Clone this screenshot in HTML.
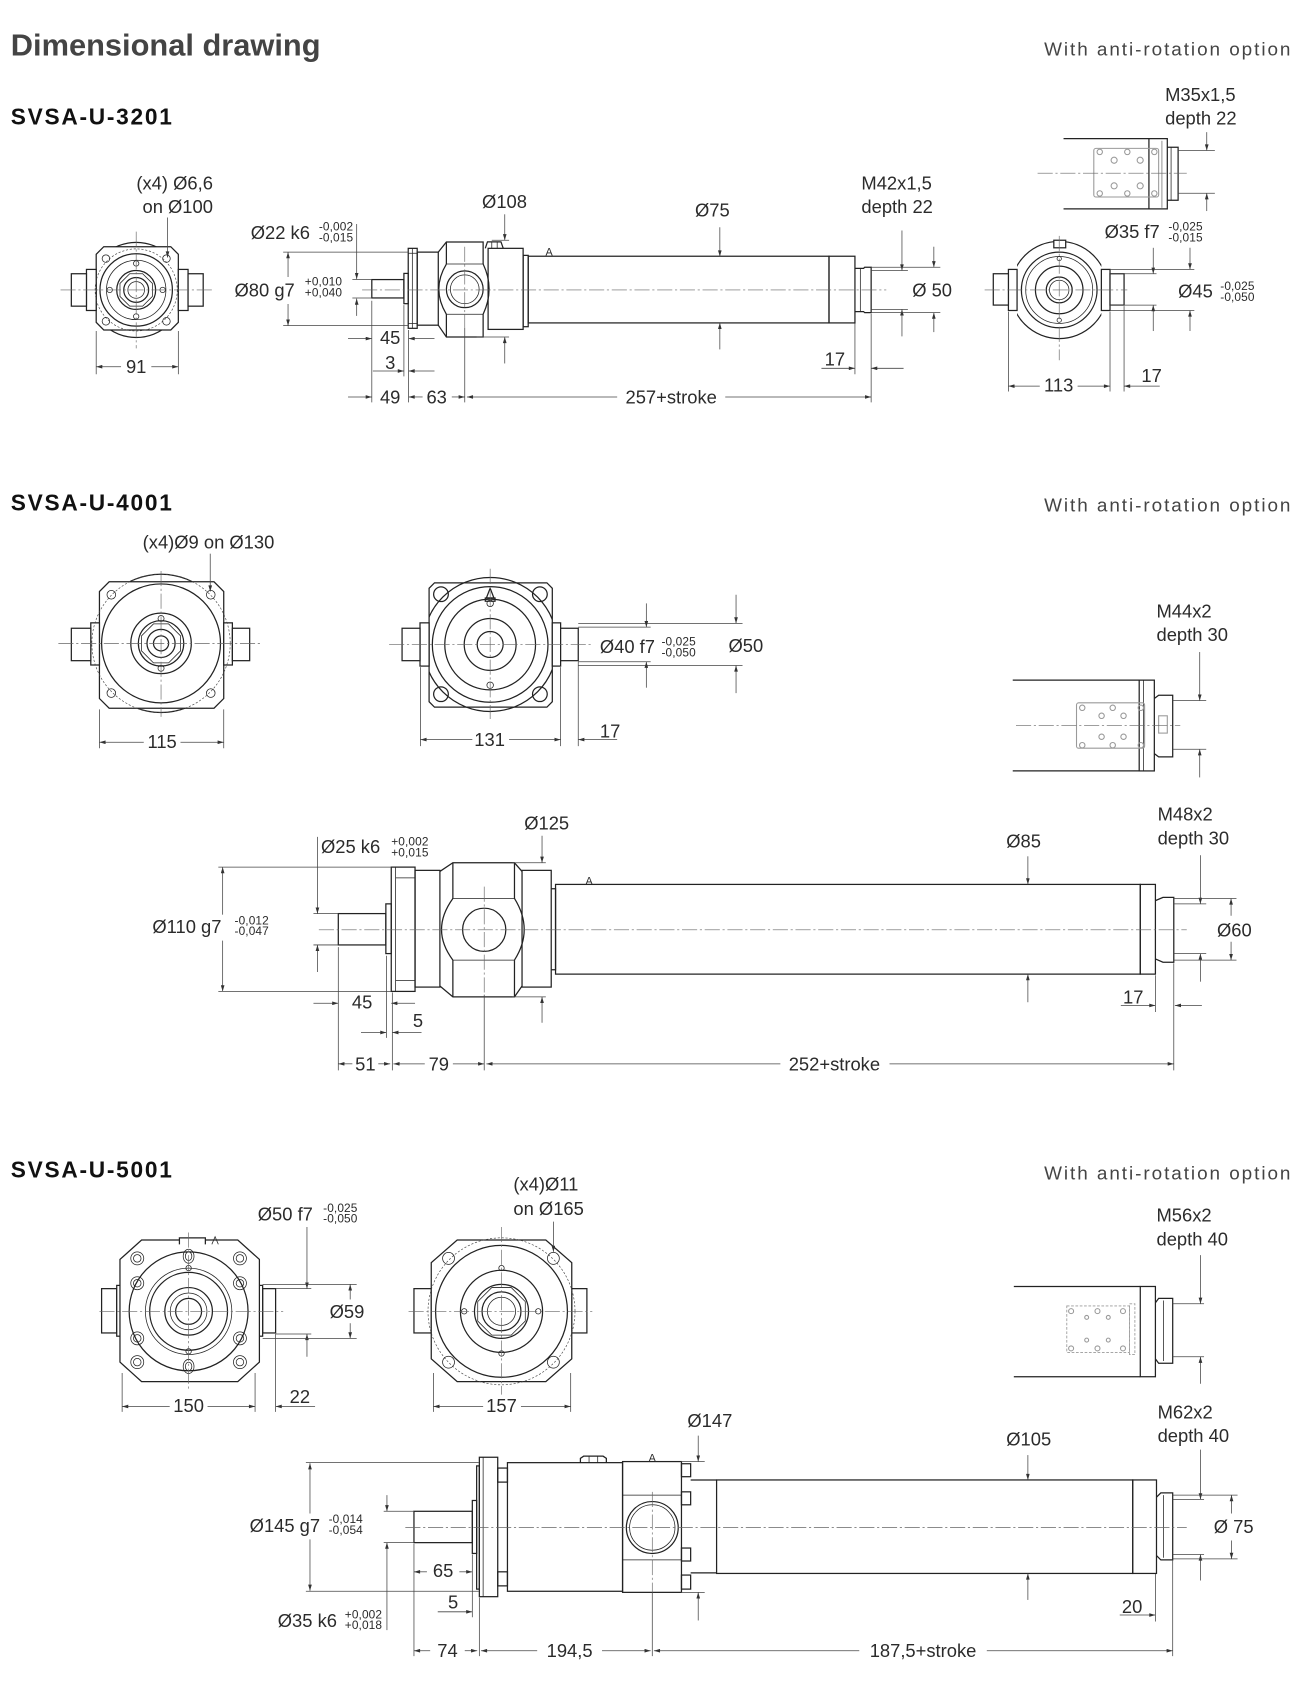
<!DOCTYPE html>
<html><head><meta charset="utf-8">
<style>
html,body{margin:0;padding:0;background:#fff}
svg{display:block}
.o{fill:none;stroke:#222;stroke-width:1.15}
.w{fill:#fff;stroke:#222;stroke-width:1.15}
.t{fill:none;stroke:#222;stroke-width:0.7}
.d{fill:none;stroke:#444;stroke-width:0.7}
.a{fill:none;stroke:#444;stroke-width:0.7;marker-end:url(#ar)}
.c{fill:none;stroke:#666;stroke-width:0.6;stroke-dasharray:14 2.5 2 2.5}
.ds{fill:none;stroke:#444;stroke-width:0.6;stroke-dasharray:2 1.6}
.g{fill:none;stroke:#9a9a9a;stroke-width:1}
.gd{fill:none;stroke:#9a9a9a;stroke-width:0.8;stroke-dasharray:2.5 1.5}
text{font-family:"Liberation Sans",Arial,sans-serif;fill:#2b2b2b}
.l{font-size:17px}
.s{font-size:11px;letter-spacing:0.1px}
.h{font-size:28.5px;font-weight:bold;fill:#444}
.m{font-size:21px;font-weight:bold;fill:#111;letter-spacing:1.6px}
.r{font-size:17.5px;fill:#444;letter-spacing:1.8px}
.x{font-size:10px}
</style></head><body>
<svg xmlns="http://www.w3.org/2000/svg" width="1297" height="1691" viewBox="0 0 1200 1564">
<defs>
<marker id="ar" viewBox="0 0 10 6" refX="10" refY="3" markerWidth="6.5" markerHeight="3.4" markerUnits="userSpaceOnUse" orient="auto"><path d="M0,0L10,3L0,6z" fill="#333"/></marker>
<clipPath id="k1"><rect x="89" y="200" width="76" height="140"/></clipPath>
<clipPath id="k2"><rect x="941" y="200" width="78" height="140"/></clipPath>
<clipPath id="k3"><rect x="92" y="520" width="115" height="160"/></clipPath>
<clipPath id="k4"><rect x="397" y="520" width="114" height="160"/></clipPath>
</defs>

<!-- HEADER -->
<text class="h" x="10" y="51">Dimensional drawing</text>
<text class="r" x="966" y="51">With anti-rotation option</text>
<text class="m" x="10" y="115">SVSA-U-3201</text>

<!-- ===== SECTION 1 : left end view ===== -->
<circle cx="126" cy="268" r="44" class="w" clip-path="url(#k1)"/>
<path class="w" d="M96,228H158L165,235V298L158,305H96L89,298V235Z"/>
<rect class="w" x="80" y="249" width="9" height="38"/>
<rect class="w" x="66" y="253" width="14" height="30"/>
<rect class="w" x="165" y="249" width="9" height="38"/>
<rect class="w" x="174" y="253" width="14" height="30"/>
<circle cx="126" cy="268" r="38" class="ds"/>
<circle cx="126" cy="268" r="33.5" class="o"/>
<circle cx="126" cy="268" r="27.5" class="t"/>
<circle cx="126" cy="268" r="18" class="o"/>
<path class="t" d="M120,253h12l9,9v12l-9,9h-12l-9,-9v-12z"/>
<circle cx="126" cy="268" r="11.5" class="o"/>
<circle cx="126" cy="268" r="7.7" class="t"/>
<circle cx="126" cy="243.5" r="2.5" class="t"/><circle cx="126" cy="292.5" r="2.5" class="t"/>
<circle cx="101.5" cy="268" r="2.5" class="t"/><circle cx="150.5" cy="268" r="2.5" class="t"/>
<circle cx="98" cy="239" r="3.5" class="t"/><circle cx="154" cy="239" r="3.5" class="t"/>
<circle cx="98" cy="297" r="3.5" class="t"/><circle cx="154" cy="297" r="3.5" class="t"/>
<path class="c" d="M56,268H196M126,214V322"/>
<path class="d" d="M89,306V346M165,306V346"/>
<path class="a" d="M112,339H89"/><path class="a" d="M140,339H165"/>
<text class="l" x="126" y="345" text-anchor="middle">91</text>
<text class="l" x="197" y="175" text-anchor="end">(x4) Ø6,6</text>
<text class="l" x="197" y="197" text-anchor="end">on Ø100</text>
<path class="a" d="M155,201V238"/>

<!-- ===== SECTION 1 : side view ===== -->
<rect class="o" x="344" y="258.4" width="29.7" height="17"/>
<rect class="o" x="373.7" y="252.7" width="4" height="28"/>
<rect class="o" x="377.7" y="229.5" width="8.3" height="74"/>
<path class="t" d="M381.5,229.5V303.5M377.7,234H386M377.7,299H386"/>
<rect class="o" x="386" y="233" width="19.5" height="67.6"/>
<path class="o" d="M405.5,233L413,223.6H447V244M405.5,300.6L413,311.5H447V290.5"/>
<path class="o" d="M413,223.6V244M413,290.5V311.5"/>
<path class="o" d="M413,244Q399,267 413,290.5M447,244Q458,267 447,290.5"/>
<path class="t" d="M413,244H447M413,290.5H447"/>
<circle cx="430" cy="267.4" r="17" class="o"/><circle cx="430" cy="267.4" r="13.3" class="t"/>
<rect class="o" x="451.6" y="229.5" width="32.4" height="75"/>
<path class="o" d="M449,229.5L451,223.5H463.5L465.6,229.5"/>
<path class="t" d="M455,223.5V229.5M460,223.5V229.5"/>
<rect class="o" x="484" y="236" width="4.7" height="66"/>
<rect class="o" x="488.7" y="236.8" width="278.3" height="61.7"/>
<rect class="o" x="767" y="236.8" width="24" height="61.7"/>
<path class="o" d="M791,248H799L800,247H806V289H800L799,288H791"/>
<path class="t" d="M796,248V288"/>
<text class="x" x="508" y="236" text-anchor="middle">A</text>
<path class="c" d="M335,268H820M430,228V303"/>
<!-- dims -->
<text class="l" x="232" y="221">Ø22 k6</text>
<text class="s" x="295" y="213">-0,002</text><text class="s" x="295" y="223">-0,015</text>
<path class="a" d="M330,207V258"/><path class="a" d="M330,292V276"/>
<path class="d" d="M326,258.4H344M326,275.4H344"/>
<text class="l" x="217" y="274">Ø80 g7</text>
<text class="s" x="282" y="264">+0,010</text><text class="s" x="282" y="274">+0,040</text>
<path class="a" d="M266.5,256V233"/><path class="a" d="M266.5,281V301"/>
<path class="d" d="M262,233H378M262,301H378"/>
<text class="l" x="446" y="192">Ø108</text>
<path class="a" d="M467,198V222"/><path class="d" d="M455,222H471"/>
<path class="a" d="M467,336V311.5"/><path class="d" d="M441,311.5H471"/>
<text class="l" x="643" y="200">Ø75</text>
<path class="a" d="M666,210V237"/><path class="a" d="M666,323V298.5"/>
<text class="l" x="797" y="175">M42x1,5</text><text class="l" x="797" y="197">depth 22</text>
<path class="a" d="M834.5,213V250"/><path class="d" d="M806,250H840"/>
<path class="a" d="M834.5,311V286"/><path class="d" d="M806,286H840"/>
<path class="d" d="M806,247H870M806,289H870"/>
<path class="a" d="M864,228V247"/><path class="a" d="M864,307V289"/>
<text class="l" x="844" y="274">Ø 50</text>
<text class="l" x="763" y="338">17</text>
<path class="a" d="M760,340.5H791"/><path class="a" d="M836,340.5H806"/>
<path class="d" d="M791,299V346M806,290V372"/>
<text class="l" x="361" y="318" text-anchor="middle">45</text>
<path class="a" d="M322,313H344"/><path class="a" d="M402,313H378"/>
<text class="l" x="361" y="341" text-anchor="middle">3</text>
<path class="a" d="M345,343H373.7"/><path class="a" d="M402,343H378"/>
<path class="d" d="M344,278V372M373.7,282V348M378,305V372M430,303V372"/>
<path class="a" d="M322,367H344"/>
<text class="l" x="361" y="373" text-anchor="middle">49</text>
<path class="a" d="M391,367H378"/>
<text class="l" x="404" y="373" text-anchor="middle">63</text>
<path class="a" d="M418,367H430"/>
<path class="a" d="M571,367H432"/>
<text class="l" x="621" y="373" text-anchor="middle">257+stroke</text>
<path class="a" d="M671,367H806"/>

<!-- ===== SECTION 1 : anti-rotation top ===== -->
<path class="o" d="M984,128H1063M984,193H1063"/>
<rect class="o" x="1063" y="128" width="17" height="65"/>
<path class="o" d="M1080,136H1090V185H1080"/>
<path class="t" d="M1083.5,136V185"/>
<rect class="g" x="1012" y="137" width="60" height="45" rx="2"/>
<path class="g" d="M1075,130V192"/>
<g class="g"><circle cx="1017.5" cy="140.3" r="2.5"/><circle cx="1043" cy="140.3" r="2.5"/><circle cx="1068" cy="140.3" r="2.5"/><circle cx="1017.5" cy="178.7" r="2.5"/><circle cx="1043" cy="178.7" r="2.5"/><circle cx="1068" cy="178.7" r="2.5"/><circle cx="1030.8" cy="148" r="2.8"/><circle cx="1054.9" cy="148" r="2.8"/><circle cx="1030.8" cy="171.7" r="2.8"/><circle cx="1054.9" cy="171.7" r="2.8"/></g>
<path class="c" d="M960,160H1098"/>
<text class="l" x="1078" y="93">M35x1,5</text><text class="l" x="1078" y="115">depth 22</text>
<path class="a" d="M1116.5,122V139"/><path class="d" d="M1090,139H1124"/>
<path class="d" d="M1090,178.5H1124"/><path class="a" d="M1116.5,195V178.5"/>

<!-- ===== SECTION 1 : anti-rotation end view ===== -->
<circle cx="980" cy="268" r="45" class="w" clip-path="url(#k2)"/>
<rect class="w" x="933" y="249" width="8" height="38"/>
<rect class="w" x="919" y="253" width="14" height="29"/>
<rect class="w" x="1019" y="249" width="8" height="38"/>
<rect class="w" x="1027" y="253" width="13" height="29"/>
<circle cx="980" cy="268" r="35" class="o"/>
<circle cx="980" cy="268" r="31" class="t"/>
<circle cx="980" cy="268" r="22" class="o"/>
<circle cx="980" cy="268" r="12" class="o"/>
<circle cx="980" cy="268" r="9" class="t"/>
<rect class="w" x="975" y="222" width="11" height="7"/>
<circle cx="980" cy="239" r="2" class="t"/><circle cx="980" cy="296" r="2" class="t"/>
<path class="c" d="M911,268H1043M980,218V333"/>
<path class="d" d="M933,288V362M1027,288V362M1040,283V362"/>
<path class="a" d="M962,357H933"/><path class="a" d="M997,357H1027"/>
<text class="l" x="979.5" y="362" text-anchor="middle">113</text>
<path class="a" d="M1073,357H1040"/>
<text class="l" x="1056" y="353">17</text>
<text class="l" x="1022" y="220">Ø35 f7</text>
<text class="s" x="1081" y="213">-0,025</text><text class="s" x="1081" y="223">-0,015</text>
<path class="d" d="M1027,249H1105M1027,287H1105M1027,253H1070M1027,282H1070"/>
<path class="a" d="M1067,229V253"/><path class="a" d="M1067,306V282"/>
<path class="a" d="M1101,229V249"/><path class="a" d="M1101,306V287"/>
<text class="l" x="1090" y="275">Ø45</text>
<text class="s" x="1129" y="268">-0,025</text><text class="s" x="1129" y="278">-0,050</text>

<!-- ===== SECTION 2 ===== -->
<text class="m" x="10" y="472">SVSA-U-4001</text>
<text class="r" x="966" y="473">With anti-rotation option</text>

<!-- left front view -->
<circle cx="149" cy="595" r="64" class="w" clip-path="url(#k3)"/>
<path class="w" d="M101,538H198L207,547V646L198,655H101L92,646V547Z"/>
<rect class="w" x="84" y="576" width="8" height="39"/>
<rect class="w" x="66" y="581" width="18" height="30"/>
<rect class="w" x="207" y="576" width="8" height="39"/>
<rect class="w" x="215" y="581" width="16" height="30"/>
<circle cx="149" cy="595" r="64" class="ds"/>
<circle cx="149" cy="595" r="55" class="o"/>
<circle cx="149" cy="595" r="28" class="o"/>
<circle cx="149" cy="595" r="21" class="o"/>
<path class="t" d="M142,577h14l11,11v14l-11,11h-14l-11,-11v-14z"/>
<circle cx="149" cy="595" r="13" class="o"/>
<circle cx="149" cy="595" r="7" class="o"/>
<circle cx="149" cy="572" r="2.8" class="t"/><circle cx="149" cy="618" r="2.8" class="t"/>
<circle cx="103" cy="550" r="4" class="t"/><circle cx="195" cy="550" r="4" class="t"/>
<circle cx="103" cy="641" r="4" class="t"/><circle cx="195" cy="641" r="4" class="t"/>
<path class="c" d="M54,595H243M149,528V663"/>
<path class="d" d="M92,656V692M207,656V692"/>
<path class="a" d="M133,686.5H92"/><path class="a" d="M167,686.5H207"/>
<text class="l" x="150" y="692" text-anchor="middle">115</text>
<text class="l" x="132" y="507">(x4)Ø9 on Ø130</text>
<path class="a" d="M194.5,512V547"/>

<!-- middle front view -->
<circle cx="453.5" cy="596" r="62" class="w" clip-path="url(#k4)"/>
<path class="o" d="M402,539H506L511,544V649L506,654H402L397,649V544Z"/>
<rect class="w" x="388.6" y="576" width="8.4" height="40"/>
<rect class="w" x="372" y="581" width="16.6" height="30"/>
<rect class="w" x="511" y="576" width="7.7" height="40"/>
<rect class="w" x="518.7" y="581" width="16.3" height="30"/>
<circle cx="408" cy="549.5" r="6.8" class="o"/><circle cx="499.5" cy="549.5" r="6.8" class="o"/>
<circle cx="408" cy="642" r="6.8" class="o"/><circle cx="499.5" cy="642" r="6.8" class="o"/>
<circle cx="453.5" cy="596" r="53.5" class="o"/>
<circle cx="453.5" cy="596" r="42" class="o"/>
<circle cx="453.5" cy="596" r="24" class="o"/>
<circle cx="453.5" cy="596" r="12" class="o"/>
<circle cx="453.5" cy="558" r="3" class="t"/><circle cx="453.5" cy="633.7" r="3" class="t"/>
<path class="o" d="M450,553L453.5,544L457,553Z"/>
<rect class="o" x="449" y="553" width="9" height="3"/>
<path class="c" d="M360,596H548M453.5,526V665"/>
<path class="d" d="M389,617V690M518.7,617V690M535,612V690"/>
<path class="a" d="M437,684H389"/><path class="a" d="M471,684H518.7"/>
<text class="l" x="453" y="690" text-anchor="middle">131</text>
<path class="a" d="M571,684H535"/>
<text class="l" x="555" y="682">17</text>
<path class="d" d="M535,580H602M535,612H602M535,576.5H687M535,615.5H687"/>
<path class="a" d="M598,558V580"/><path class="a" d="M598,636V612"/>
<path class="a" d="M681,550V576.5"/><path class="a" d="M681,641V615.5"/>
<text class="l" x="555" y="604">Ø40 f7</text>
<text class="s" x="612" y="597">-0,025</text><text class="s" x="612" y="607">-0,050</text>
<text class="l" x="674" y="603">Ø50</text>

<!-- anti-rotation section 2 -->
<path class="o" d="M937,629H1054M937,713H1054"/>
<rect class="o" x="1054" y="629" width="14" height="84"/>
<path class="t" d="M1058,629V713"/>
<path class="o" d="M1068,646L1072,643H1085V700H1072L1068,697"/>
<rect class="g" x="1072" y="662" width="8" height="16"/>
<rect class="g" x="996" y="650" width="63" height="42" rx="2"/>
<g class="g"><circle cx="1001.3" cy="654.6" r="2.5"/><circle cx="1029.5" cy="654.6" r="2.5"/><circle cx="1055.5" cy="654.6" r="2.5"/><circle cx="1001.3" cy="689.2" r="2.5"/><circle cx="1029.5" cy="689.2" r="2.5"/><circle cx="1055.5" cy="689.2" r="2.5"/><circle cx="1019.2" cy="662" r="2.5"/><circle cx="1039.5" cy="662" r="2.5"/><circle cx="1019.2" cy="681.4" r="2.5"/><circle cx="1039.5" cy="681.4" r="2.5"/></g>
<path class="c" d="M940,671H1092"/>
<text class="l" x="1070" y="571">M44x2</text><text class="l" x="1070" y="593">depth 30</text>
<path class="a" d="M1110,603V648"/><path class="d" d="M1085,648H1116"/>
<path class="d" d="M1085,693H1116"/><path class="a" d="M1110,719V693"/>

<!-- side view section 2 -->
<rect class="o" x="313" y="845" width="44" height="29"/>
<rect class="o" x="357" y="836" width="5" height="46"/>
<rect class="o" x="362" y="802" width="22" height="115"/>
<path class="t" d="M366,802V917M366,812H384M366,907H384"/>
<rect class="o" x="384" y="805" width="23" height="108"/>
<path class="o" d="M407,806L419,798H476L483,806M407,912L419,922H476L483,912"/>
<path class="o" d="M419,798V831M476,798V831M419,888V922M476,888V922"/>
<path class="o" d="M419,831Q398,860 419,888M476,831Q494,860 476,888"/>
<path class="t" d="M419,831H476M419,888H476"/>
<circle cx="448" cy="860" r="20" class="o"/>
<rect class="o" x="483" y="805" width="27" height="108"/>
<path class="o" d="M510,822H514V897H510"/>
<rect class="o" x="514" y="818" width="541" height="83"/>
<rect class="o" x="1055" y="818" width="14" height="83"/>
<path class="o" d="M1069,833L1076,830H1086V890H1076L1069,887"/>
<text class="x" x="545" y="818" text-anchor="middle">A</text>
<path class="c" d="M295,860H1098M448,820V920"/>
<!-- dims -->
<text class="l" x="485" y="767">Ø125</text>
<path class="a" d="M501.5,773V798"/><path class="d" d="M474,798H505"/>
<path class="a" d="M501.5,946V922"/><path class="d" d="M474,922H505"/>
<text class="l" x="297" y="789">Ø25 k6</text>
<text class="s" x="362" y="782">+0,002</text><text class="s" x="362" y="792">+0,015</text>
<path class="a" d="M293.7,774V845"/><path class="a" d="M293.7,899V874"/>
<path class="d" d="M290,845H313M290,874H313"/>
<text class="l" x="141" y="863">Ø110 g7</text>
<text class="s" x="217" y="855">-0,012</text><text class="s" x="217" y="865">-0,047</text>
<path class="a" d="M206,846V802"/><path class="a" d="M206,870V917"/>
<path class="d" d="M202,802H362M202,917H362"/>
<text class="l" x="335" y="933" text-anchor="middle">45</text>
<path class="a" d="M290,928H313"/><path class="a" d="M384,928H362"/>
<text class="l" x="382" y="950">5</text>
<path class="a" d="M334,955H357.5"/><path class="a" d="M390,955H363"/>
<path class="d" d="M313,876V990M357.5,884V960M363,918V990M448,920V990M1086,891V990"/>
<path class="a" d="M326,984H313"/>
<text class="l" x="338" y="990" text-anchor="middle">51</text>
<path class="a" d="M350,984H361"/>
<path class="a" d="M393,984H364"/>
<text class="l" x="406" y="990" text-anchor="middle">79</text>
<path class="a" d="M419,984H448"/>
<path class="a" d="M722,984H450"/>
<text class="l" x="772" y="990" text-anchor="middle">252+stroke</text>
<path class="a" d="M823,984H1086"/>
<text class="l" x="1039" y="928">17</text>
<path class="a" d="M1037,930H1069"/><path class="a" d="M1112,930H1087"/>
<path class="d" d="M1069,902V936"/>
<text class="l" x="931" y="784">Ø85</text>
<path class="a" d="M951,792V818"/><path class="a" d="M951,927V901"/>
<text class="l" x="1071" y="759">M48x2</text><text class="l" x="1071" y="781">depth 30</text>
<path class="a" d="M1110.6,791V836"/><path class="d" d="M1086,836H1116"/>
<path class="d" d="M1086,882H1116"/><path class="a" d="M1110.6,908V882"/>
<path class="d" d="M1086,831H1144M1086,888H1144"/>
<path class="a" d="M1139,847V831"/><path class="a" d="M1139,871V888"/>
<text class="l" x="1126" y="866">Ø60</text>

<!-- ===== SECTION 3 ===== -->
<text class="m" x="10" y="1089">SVSA-U-5001</text>
<text class="r" x="966" y="1091">With anti-rotation option</text>

<!-- left front view -->
<rect class="w" x="94" y="1192" width="14" height="41"/>
<rect class="w" x="108" y="1189" width="4" height="47"/>
<rect class="w" x="243" y="1192" width="12" height="41"/>
<rect class="w" x="239" y="1189" width="4" height="47"/>
<path class="w" d="M131,1147H220L240,1165V1260L220,1278H131L111,1260V1165Z"/>
<path class="w" d="M166,1151V1145H190V1151"/>
<path class="t" d="M196,1151L199,1144L202,1151"/>
<circle cx="174.5" cy="1213" r="55" class="o"/>
<circle cx="174.5" cy="1213" r="40" class="t"/>
<circle cx="174.5" cy="1213" r="36" class="o"/>
<circle cx="174.5" cy="1213" r="22" class="o"/>
<circle cx="174.5" cy="1213" r="17" class="t"/>
<circle cx="174.5" cy="1213" r="12" class="o"/>
<g class="t">
<circle cx="127" cy="1164" r="6"/><circle cx="127" cy="1164" r="3.5"/>
<circle cx="222" cy="1164" r="6"/><circle cx="222" cy="1164" r="3.5"/>
<circle cx="127" cy="1260" r="6"/><circle cx="127" cy="1260" r="3.5"/>
<circle cx="222" cy="1260" r="6"/><circle cx="222" cy="1260" r="3.5"/>
<circle cx="127" cy="1187" r="6"/><circle cx="127" cy="1187" r="3.5"/>
<circle cx="222" cy="1187" r="6"/><circle cx="222" cy="1187" r="3.5"/>
<circle cx="127" cy="1238" r="6"/><circle cx="127" cy="1238" r="3.5"/>
<circle cx="222" cy="1238" r="6"/><circle cx="222" cy="1238" r="3.5"/>
<ellipse cx="174.5" cy="1162" rx="5" ry="6.5"/><ellipse cx="174.5" cy="1162" rx="3" ry="4"/>
<ellipse cx="174.5" cy="1264" rx="5" ry="6.5"/><ellipse cx="174.5" cy="1264" rx="3" ry="4"/>
<circle cx="174.5" cy="1173" r="2.5"/><circle cx="174.5" cy="1250" r="2.5"/>
</g>
<path class="c" d="M92,1213H262M174.5,1140V1285"/>
<path class="d" d="M113,1270V1306M236,1270V1306M255,1234V1306"/>
<path class="a" d="M157,1301H113"/><path class="a" d="M192,1301H236"/>
<text class="l" x="174.5" y="1306" text-anchor="middle">150</text>
<path class="a" d="M291.5,1301H255"/>
<text class="l" x="268" y="1298">22</text>
<text class="l" x="238.5" y="1129">Ø50 f7</text>
<text class="s" x="299" y="1121">-0,025</text><text class="s" x="299" y="1131">-0,050</text>
<path class="a" d="M284,1135V1192"/><path class="a" d="M284,1255V1234"/>
<path class="d" d="M255,1192H288M255,1234H288M243,1188H330M243,1238H330"/>
<path class="a" d="M324,1202V1188"/><path class="a" d="M324,1224V1238"/>
<text class="l" x="305" y="1219">Ø59</text>

<!-- middle front view -->
<rect class="w" x="383" y="1192" width="16" height="41"/>
<rect class="w" x="529" y="1192" width="14" height="41"/>
<path class="w" d="M423,1147H505L529,1168V1257L505,1278H423L399,1257V1168Z"/>
<circle cx="464" cy="1213" r="68" class="ds"/>
<circle cx="464" cy="1213" r="61" class="o"/>
<circle cx="464" cy="1213" r="38" class="o"/>
<circle cx="464" cy="1213" r="25" class="o"/>
<path class="t" d="M455,1191h18l13,13v18l-13,13h-18l-13,-13v-18z"/>
<circle cx="464" cy="1213" r="18" class="o"/>
<circle cx="464" cy="1213" r="13" class="t"/>
<g class="t">
<circle cx="415" cy="1164" r="5.5"/><circle cx="512" cy="1164" r="5.5"/>
<circle cx="415" cy="1260" r="5.5"/><circle cx="512" cy="1260" r="5.5"/>
<circle cx="464" cy="1173" r="2.5"/><circle cx="464" cy="1252" r="2.5"/>
<circle cx="429.5" cy="1213" r="2.5"/><circle cx="498" cy="1213" r="2.5"/>
</g>
<path class="c" d="M378,1213H548M464,1135V1290"/>
<path class="d" d="M401,1270V1306M528,1270V1306"/>
<path class="a" d="M447,1301H401"/><path class="a" d="M482,1301H528"/>
<text class="l" x="464" y="1306" text-anchor="middle">157</text>
<text class="l" x="475" y="1101">(x4)Ø11</text>
<text class="l" x="475" y="1124">on Ø165</text>
<path class="a" d="M512,1130V1158"/>

<!-- anti-rotation section 3 -->
<path class="o" d="M938,1190H1055M938,1273.5H1055"/>
<rect class="o" x="1055" y="1190" width="14" height="83.5"/>
<path class="o" d="M1069,1205L1072,1201H1085V1261H1072L1069,1257"/>
<path class="t" d="M1076.5,1203V1259"/>
<rect class="gd" x="987" y="1208" width="58" height="43"/>
<rect class="gd" x="1045" y="1206" width="5" height="47"/>
<g class="g" stroke-width="0.8"><circle cx="991" cy="1212.8" r="2.3"/><circle cx="1015.4" cy="1212.8" r="2.3"/><circle cx="1039" cy="1212.8" r="2.3"/><circle cx="991" cy="1247.3" r="2.3"/><circle cx="1015.4" cy="1247.3" r="2.3"/><circle cx="1039" cy="1247.3" r="2.3"/><circle cx="1005.4" cy="1218.6" r="1.8"/><circle cx="1025.4" cy="1218.6" r="1.8"/><circle cx="1005.4" cy="1239.6" r="1.8"/><circle cx="1025.4" cy="1239.6" r="1.8"/></g>
<text class="l" x="1070" y="1130">M56x2</text><text class="l" x="1070" y="1152">depth 40</text>
<path class="a" d="M1110.7,1161V1206"/><path class="d" d="M1085,1206H1114"/>
<path class="d" d="M1085,1255H1114"/><path class="a" d="M1110.7,1280V1255"/>

<!-- side view section 3 -->
<rect class="o" x="383" y="1398" width="54" height="29"/>
<rect class="o" x="437" y="1388" width="4" height="49"/>
<rect class="o" x="441" y="1356" width="2.5" height="114"/>
<rect class="o" x="443.5" y="1348" width="17" height="129"/>
<path class="t" d="M447,1348V1477"/>
<rect class="o" x="460.5" y="1358" width="9" height="13"/>
<rect class="o" x="460.5" y="1454" width="9" height="13"/>
<rect class="o" x="469.5" y="1353" width="106.5" height="119"/>
<path class="o" d="M537,1353V1349L540,1347H558L561,1349V1353"/>
<path class="t" d="M545,1347V1353M553,1347V1353"/>
<rect class="o" x="576" y="1352" width="54.5" height="121"/>
<path class="t" d="M576,1383H630.5M576,1443H630.5"/>
<circle cx="603.5" cy="1413" r="24" class="o"/><circle cx="603.5" cy="1413" r="21" class="t"/>
<text class="x" x="603.5" y="1352" text-anchor="middle">A</text>
<rect class="o" x="630.5" y="1354" width="8.5" height="12"/>
<rect class="o" x="630.5" y="1380" width="8.5" height="12"/>
<rect class="o" x="630.5" y="1432" width="8.5" height="12"/>
<rect class="o" x="630.5" y="1457" width="8.5" height="13"/>
<path class="o" d="M639,1369H663M639,1455H663"/>
<rect class="o" x="663" y="1369" width="385" height="86.5"/>
<rect class="o" x="1048" y="1369" width="22" height="86.5"/>
<path class="o" d="M1070,1385L1074,1381H1085V1443H1074L1070,1439"/>
<path class="t" d="M1076.5,1383V1441"/>
<path class="c" d="M375,1413H1098M603.5,1380V1473"/>
<!-- dims -->
<text class="l" x="636" y="1320">Ø147</text>
<path class="a" d="M646,1328V1352"/><path class="d" d="M630,1352H652"/>
<path class="a" d="M646,1499V1473"/><path class="d" d="M630,1473H652"/>
<text class="l" x="931" y="1337">Ø105</text>
<path class="a" d="M951,1346V1369"/><path class="a" d="M951,1480V1455.5"/>
<text class="l" x="1071" y="1312">M62x2</text><text class="l" x="1071" y="1334">depth 40</text>
<path class="a" d="M1110.7,1341V1387"/><path class="d" d="M1085,1387H1114"/>
<path class="d" d="M1085,1438H1114"/><path class="a" d="M1110.7,1462V1438"/>
<path class="d" d="M1085,1383H1145M1085,1442H1145"/>
<path class="a" d="M1139.4,1400V1383"/><path class="a" d="M1139.4,1425V1442"/>
<text class="l" x="1123" y="1418">Ø 75</text>
<text class="l" x="1038" y="1492">20</text>
<path class="a" d="M1036,1494H1069"/>
<path class="d" d="M1069,1456V1500M1085,1443V1532"/>
<text class="l" x="231" y="1417">Ø145 g7</text>
<text class="s" x="304" y="1409">-0,014</text><text class="s" x="304" y="1419">-0,054</text>
<path class="a" d="M286.8,1400V1353.5"/><path class="a" d="M286.8,1424V1471.5"/>
<path class="d" d="M283,1353H443M283,1472H443"/>
<text class="l" x="257" y="1505">Ø35 k6</text>
<text class="s" x="319" y="1497">+0,002</text><text class="s" x="319" y="1507">+0,018</text>
<path class="a" d="M358,1383V1398"/><path class="a" d="M358,1508V1427"/>
<path class="d" d="M355,1398H383M355,1427H383"/>
<text class="l" x="410" y="1459" text-anchor="middle">65</text>
<path class="a" d="M395,1454H383"/><path class="a" d="M425,1454H437"/>
<text class="l" x="414.5" y="1488">5</text>
<path class="a" d="M405,1491H437"/>
<path class="d" d="M383,1428V1532M437,1438V1496M443.5,1478V1532M603.5,1473V1532"/>
<path class="a" d="M398,1527H383"/>
<text class="l" x="414" y="1533" text-anchor="middle">74</text>
<path class="a" d="M430,1527H441.5"/>
<path class="a" d="M497,1527H445"/>
<text class="l" x="527" y="1533" text-anchor="middle">194,5</text>
<path class="a" d="M557,1527H602"/>
<path class="a" d="M795,1527H605"/>
<text class="l" x="854" y="1533" text-anchor="middle">187,5+stroke</text>
<path class="a" d="M913,1527H1085"/>
</svg>
</body></html>
